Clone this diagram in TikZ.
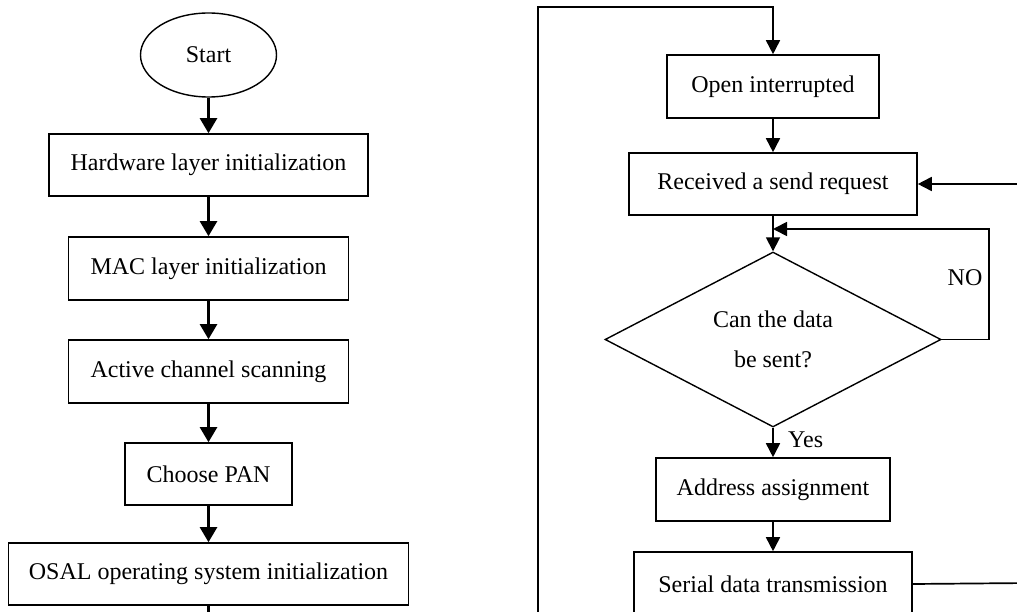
\documentclass[tikz,border=0pt]{standalone}
\usepackage{fontspec}
\setmainfont{Liberation Serif}
\usetikzlibrary{arrows.meta,shapes.geometric}

\tikzset{
  stepbox/.style={draw, line width=1.6pt, inner sep=0pt, font=\fontsize{24}{28}\selectfont},
  termbox/.style={draw, ellipse, line width=1.4pt, inner sep=0pt, font=\fontsize{24}{28}\selectfont},
  decbox/.style={draw, diamond, line width=1.4pt, inner sep=0pt, shape aspect=1.92,
                 align=center, font=\fontsize{24}{40}\selectfont},
  flow/.style={line width=2.4pt, -{Triangle[length=15pt,width=17pt]}},
  rflow/.style={line width=1.7pt, -{Triangle[length=14pt,width=14pt]}},
  rline/.style={line width=1.7pt},
  lbl/.style={font=\fontsize{24}{28}\selectfont, inner sep=0pt}
}

\begin{document}
\begin{tikzpicture}[x=1pt, y=-1pt]
  \useasboundingbox (0,0) rectangle (1017,612);
  \clip (0,0) rectangle (1017,612);

  % left column: initialisation sequence
  \node[termbox, minimum width=136pt, minimum height=84pt] (start) at (208.5,55) {Start};
  \node[stepbox, minimum width=319pt, minimum height=62pt] (hw) at (208.5,165) {Hardware layer initialization};
  \node[stepbox, minimum width=280pt, minimum height=63pt] (mac) at (208.5,268.5) {MAC layer initialization};
  \node[stepbox, minimum width=280pt, minimum height=63pt] (scan) at (208.5,371.5) {Active channel scanning};
  \node[stepbox, minimum width=167pt, minimum height=62pt] (pan) at (208.5,474) {Choose PAN};
  \node[stepbox, minimum width=400pt, minimum height=62pt] (osal) at (208.5,574) {OSAL operating system initialization};
  \coordinate (osalout) at (208.5,625);

  \draw[flow] (start) -- (hw);
  \draw[flow] (hw) -- (mac);
  \draw[flow] (mac) -- (scan);
  \draw[flow] (scan) -- (pan);
  \draw[flow] (pan) -- (osal);
  \draw[line width=2.4pt] (osal.south) -- (osalout);

  % right column: transmission loop
  \node[stepbox, minimum width=212pt, minimum height=63pt] (open) at (773,86.5) {Open interrupted};
  \node[stepbox, minimum width=288pt, minimum height=62pt] (recv) at (773,184) {Received a send request};
  \node[decbox, minimum width=336pt, minimum height=175pt] (can) at (773,339.5) {Can the data\\be sent?};
  \node[stepbox, minimum width=234pt, minimum height=63pt] (addr) at (773,489.5) {Address assignment};
  \node[stepbox, minimum width=278pt, minimum height=64pt] (ser) at (773,584) {Serial data transmission};

  \coordinate (loopbot) at (538,625);
  \coordinate (looptop) at (538,7);
  \coordinate (loopin) at (773,7);
  \coordinate (reqin) at (1030,184);
  \coordinate (serout) at (1030,583);
  \coordinate (nocorner) at (989,339.5);
  \coordinate (notop) at (989,229);
  \coordinate (nojoin) at (773,229);

  \draw[rflow] (loopbot) -- (looptop) -- (loopin) -- (open.north);
  \draw[rflow] (open) -- (recv);
  \draw[rflow] (reqin) -- (recv.east);
  \draw[rflow] (recv) -- (can.north);
  \draw[rflow] (can.east) -- (nocorner) -- (notop) -- (nojoin);
  \draw[rflow] (can.south) -- (addr);
  \draw[rflow] (addr) -- (ser);
  \draw[rline] (ser.east) -- (serout);

  \node[lbl] (no) at (965,278) {NO};
  \node[lbl, anchor=west] (yes) at (788,440) {Yes};
\end{tikzpicture}
\end{document}
